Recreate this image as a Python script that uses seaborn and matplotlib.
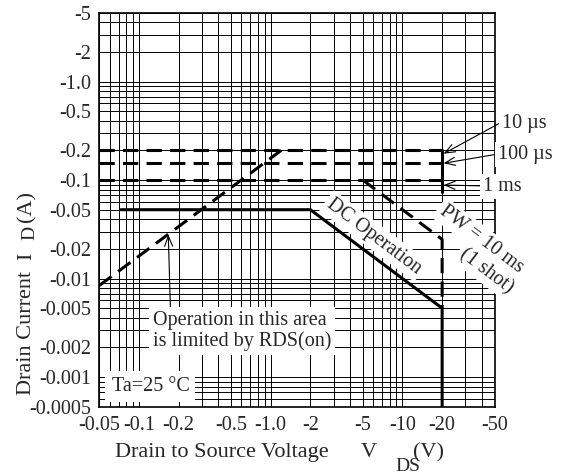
import matplotlib
matplotlib.use("Agg")
import matplotlib.pyplot as plt
import numpy as np
import seaborn as sns
from matplotlib.ticker import FixedFormatter, FixedLocator, LogLocator, NullFormatter

# Tick values (magnitudes) and printed labels
x_ticks = [0.05, 0.1, 0.2, 0.5, 1.0, 2, 5, 10, 20, 50]
x_tick_labels = ["-0.05", "-0.1", "-0.2", "-0.5", "-1.0", "-2", "-5", "-10", "-20", "-50"]
y_ticks = [0.0005, 0.001, 0.002, 0.005, 0.01, 0.02, 0.05, 0.1, 0.2, 0.5, 1.0, 2, 5]
y_tick_labels = ["-0.0005", "-0.001", "-0.002", "-0.005", "-0.01", "-0.02", "-0.05",
                 "-0.1", "-0.2", "-0.5", "-1.0", "-2", "-5"]

# Safe operating area boundaries, |VDS| in V and |ID| in A
dc_v = [0.073, 2, 20, 20]
dc_i = [0.05, 0.05, 0.005, 0.0005]
pw10ms_v = [5, 20, 20]
pw10ms_i = [0.1, 0.025, 0.005]
pulse_names = ["10 µs", "100 µs", "1 ms"]
pulse_i = [0.2, 0.15, 0.1]
pulse_v = [0.05, 20]
edge_v = [20, 20]
edge_i = [0.2, 0.075]
rds_v = [0.05, 1.2]
rds_i = [0.0085, 0.2]

sns.set_style("white")
plt.rcParams["font.family"] = ["Liberation Serif", "DejaVu Serif"]
plt.rcParams["font.size"] = 14.5

fig = plt.figure(figsize=(5.66, 4.76), dpi=100)
ax = fig.add_axes([0.1754, 0.1456, 0.6984, 0.8277])

dash = (0, (5, 2.7))
lw = 2.2

# pulse limits (horizontal dashed)
for level in pulse_i:
    sns.lineplot(x=pulse_v, y=[level, level], ax=ax, color="black", lw=lw,
                 linestyle=dash, estimator=None, sort=False, zorder=4)
sns.lineplot(x=edge_v, y=edge_i, ax=ax, color="black", lw=lw,
             estimator=None, sort=False, zorder=4)
# 10 ms single shot
sns.lineplot(x=pw10ms_v, y=pw10ms_i, ax=ax, color="black", lw=lw,
             linestyle=dash, estimator=None, sort=False, zorder=4)
# DC operation
sns.lineplot(x=dc_v, y=dc_i, ax=ax, color="black", lw=lw,
             estimator=None, sort=False, zorder=4)
# RDS(on) limit
sns.lineplot(x=rds_v, y=rds_i, ax=ax, color="black", lw=lw,
             linestyle=dash, estimator=None, sort=False, zorder=4)

ax.set_xscale("log")
ax.set_yscale("log")
ax.set_xlim(0.05, 50)
ax.set_ylim(0.0005, 5)

ax.xaxis.set_major_locator(FixedLocator(x_ticks))
ax.xaxis.set_major_formatter(FixedFormatter(x_tick_labels))
ax.yaxis.set_major_locator(FixedLocator(y_ticks))
ax.yaxis.set_major_formatter(FixedFormatter(y_tick_labels))
for axis in (ax.xaxis, ax.yaxis):
    axis.set_minor_locator(LogLocator(base=10, subs=np.arange(1, 10), numticks=30))
    axis.set_minor_formatter(NullFormatter())
ax.tick_params(which="both", length=0)
ax.tick_params(axis="x", pad=7)
ax.tick_params(axis="y", pad=6)
ax.grid(which="both", color="black", lw=0.7)
for s in ax.spines.values():
    s.set_color("black")
    s.set_linewidth(1.2)

box = dict(boxstyle="square,pad=0.15", fc="white", ec="none")

# pulse width labels to the right
label_pos = [(1.018, 0.720), (1.009, 0.639), (0.971, 0.558)]
tip_i = [0.185, 0.148, 0.089]
for name, pos, ti in zip(pulse_names, label_pos, tip_i):
    ax.annotate(name, xy=(20.5, ti), xytext=pos, textcoords="axes fraction",
                ha="left", va="center", bbox=box, annotation_clip=False, zorder=6,
                arrowprops=dict(arrowstyle="->,head_length=0.5,head_width=0.2",
                                lw=0.8, color="black", relpos=(0, 0.55),
                                shrinkA=0, shrinkB=0))

ax.text(6.09, 0.027, "DC Operation", rotation=-37, ha="center", va="center",
        rotation_mode="anchor", bbox=box, zorder=5)
ax.text(39.5, 0.0252, "PW = 10 ms", rotation=-37, ha="center", va="center",
        rotation_mode="anchor", bbox=box, zorder=5)
ax.text(43.2, 0.0119, "(1 shot)", rotation=-37, ha="center", va="center",
        rotation_mode="anchor", bbox=box, zorder=5)

ax.annotate("Operation in this area\nis limited by RDS(on)", xy=(0.167, 0.0279),
            xytext=(0.135, 0.192), textcoords="axes fraction", ha="left", va="center",
            linespacing=1.1, zorder=6,
            bbox=dict(boxstyle="square,pad=0.2", fc="white", ec="none"),
            arrowprops=dict(arrowstyle="->,head_length=0.5,head_width=0.2", lw=0.8,
                            color="black", relpos=(0.1, 1.0), shrinkA=0, shrinkB=0))

ax.text(0.031, 0.051, "Ta=25 °C", transform=ax.transAxes, ha="left", va="center",
        bbox=dict(boxstyle="square,pad=0.3", fc="white", ec="none"), zorder=6)

# axis titles (pieces, with lowered subscripts)
fig.text(115 / 566, 1 - 457 / 476, "Drain to Source Voltage", fontsize=16, va="baseline")
fig.text(361 / 566, 1 - 457 / 476, "V", fontsize=16, va="baseline")
fig.text(395 / 566, 1 - 471 / 476, "DS", fontsize=14, va="baseline")
fig.text(413 / 566, 1 - 457 / 476, "(V)", fontsize=16, va="baseline")

ylab = dict(fontsize=16, rotation=90, ha="left", va="baseline", rotation_mode="anchor")
fig.text(31 / 566, 1 - 395 / 476, "Drain Current", **ylab)
fig.text(31 / 566, 1 - 260 / 476, "I", **ylab)
fig.text(34 / 566, 1 - 240 / 476, "D", **dict(ylab, fontsize=14))
fig.text(31 / 566, 1 - 222 / 476, "(A)", **ylab)

fig.savefig("out.png", dpi=100)
